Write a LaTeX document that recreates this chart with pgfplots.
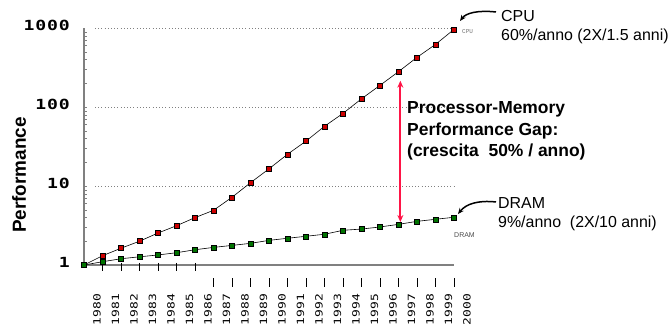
\documentclass[border=0pt]{standalone}
\usepackage{fontspec}
\setmainfont{Liberation Sans}
\newfontfamily\ytickfont[FakeStretch=1.3, LetterSpace=6]{DejaVu Sans Mono}
\newfontfamily\xtickfont[FakeStretch=1.3, LetterSpace=3]{DejaVu Sans Mono}
\newfontfamily\smallmono{Liberation Mono}
\usepackage{pgfplots}
\usepackage{pgfplotstable}
\pgfplotsset{compat=1.18}
\usetikzlibrary{arrows.meta}
\definecolor{cpured}{RGB}{204,0,0}
\definecolor{dramgreen}{RGB}{0,115,0}
\definecolor{gaparrow}{RGB}{255,20,70}
\definecolor{axisgray}{RGB}{128,128,128}

\pgfplotstableread{
year perf
1980 1.0
1981 1.31
1982 1.63
1983 2.0
1984 2.54
1985 3.14
1986 3.98
1987 4.92
1988 7.2
1989 11.0
1990 16.5
1991 25.2
1992 37
1993 57
1994 83
1995 127
1996 188
1997 280
1998 425
1999 620
2000 960
}\cpudata

\pgfplotstableread{
year perf
1980 1.0
1981 1.10
1982 1.20
1983 1.27
1984 1.34
1985 1.43
1986 1.56
1987 1.67
1988 1.77
1989 1.88
1990 2.05
1991 2.18
1992 2.31
1993 2.45
1994 2.75
1995 2.85
1996 3.03
1997 3.27
1998 3.57
1999 3.79
2000 4.02
}\dramdata

\begin{document}
\begin{tikzpicture}
\path[use as bounding box] (-84bp,-64bp) rectangle (588bp,265bp);
\begin{axis}[
  scale only axis, width=370bp, height=237bp,
  xmin=0, xmax=20, ymode=log, ymin=1, ymax=1000,
  axis x line*=bottom, axis y line*=left,
  axis line style={-, draw=axisgray, line width=1.4bp},
  xtick={0,...,20},
  xticklabels={1980,1981,1982,1983,1984,1985,1986,1987,1988,1989,1990,1991,1992,1993,1994,1995,1996,1997,1998,1999,2000},
  ytick={1,10,100,1000}, yticklabels={1,10,100,1000},
  major tick length=0pt,
  xticklabel style={font=\xtickfont\fontsize{10}{12}\selectfont, xshift=13bp, rotate=90, anchor=east, inner sep=0pt},
  xticklabel shift=28bp,
  yticklabel style={font=\ytickfont\bfseries\fontsize{14}{16}\selectfont, anchor=east, inner sep=0pt, xshift=-14bp, yshift=3bp},
  clip=false,
]
\draw[axisgray, dash pattern=on 0.8bp off 2.4bp, line width=0.7bp] (axis cs:0.6,10) -- (axis cs:20,10);
\draw[axisgray, dash pattern=on 0.8bp off 2.4bp, line width=0.7bp] (axis cs:0.6,100) -- (axis cs:20,100);
\draw[axisgray, dash pattern=on 0.8bp off 2.4bp, line width=0.7bp] (axis cs:0.6,1000) -- (axis cs:20,1000);

\addplot[black, line width=0.6bp, mark=square*, mark size=2.5bp,
  mark options={fill=cpured, draw=black, line width=0.5bp}] table[x expr=\thisrow{year}-1980,y=perf] {\cpudata};
\addplot[black, line width=0.6bp, mark=square*, mark size=2.5bp,
  mark options={fill=dramgreen, draw=black, line width=0.5bp}] table[x expr=\thisrow{year}-1980,y=perf] {\dramdata};

\pgfplotsinvokeforeach{1,...,6}{\draw[black, line width=0.8bp] ([yshift=2bp]axis cs:#1,1) -- ([yshift=-5.5bp]axis cs:#1,1);}
\pgfplotsinvokeforeach{7,...,20}{\draw[black, line width=0.8bp] ([yshift=-13bp]axis cs:#1,1) -- ([yshift=-22bp]axis cs:#1,1);}

\draw[gaparrow, line width=1.8bp, {Stealth[length=7bp,width=6bp]}-{Stealth[length=7bp,width=6bp]}]
  (axis cs:17.1,3.5) -- (axis cs:17.1,215);
\end{axis}

\begin{scope}[x=1bp,y=-1bp,shift={(-84bp,265bp)}]
\node[rotate=90, anchor=base, inner sep=0pt, font=\bfseries\fontsize{19}{22}\selectfont] at (26,175) {Performance};

\node[anchor=base west, inner sep=0pt, font=\bfseries\fontsize{17.5}{20}\selectfont] at (407,114) {Processor-Memory};
\node[anchor=base west, inner sep=0pt, font=\bfseries\fontsize{17.5}{20}\selectfont] at (407,135.5) {Performance Gap:};
\node[anchor=base west, inner sep=0pt, font=\bfseries\fontsize{17.5}{20}\selectfont] at (407,157) {(crescita\ \ 50\% / anno)};

\node[anchor=base west, inner sep=0pt, font=\fontsize{16}{19}\selectfont] at (501,21.7) {CPU};
\node[anchor=base west, inner sep=0pt, font=\fontsize{16}{19}\selectfont] at (501,41) {60\%/anno (2X/1.5 anni)};
\node[anchor=base west, inner sep=0pt, font=\fontsize{16}{19}\selectfont] at (498,209) {DRAM};
\node[anchor=base west, inner sep=0pt, font=\fontsize{16}{19}\selectfont] at (498,228) {9\%/anno\ \ (2X/10 anni)};

\node[anchor=west, inner sep=0pt, text=black!55, font=\smallmono\fontsize{6}{7}\selectfont] at (462,32) {CPU};
\node[anchor=center, inner sep=0pt, text=black!70, font=\fontsize{7}{8}\selectfont] at (464.5,235) {DRAM};

\draw[black, line width=1.5bp, -{Stealth[length=6bp,width=5bp]}] (496,12) .. controls (478,10) and (466,13) .. (460,21);
\draw[black, line width=1.5bp, -{Stealth[length=6bp,width=5bp]}] (496,202) .. controls (478,200) and (466,204) .. (458,214);
\end{scope}
\end{tikzpicture}
\end{document}
